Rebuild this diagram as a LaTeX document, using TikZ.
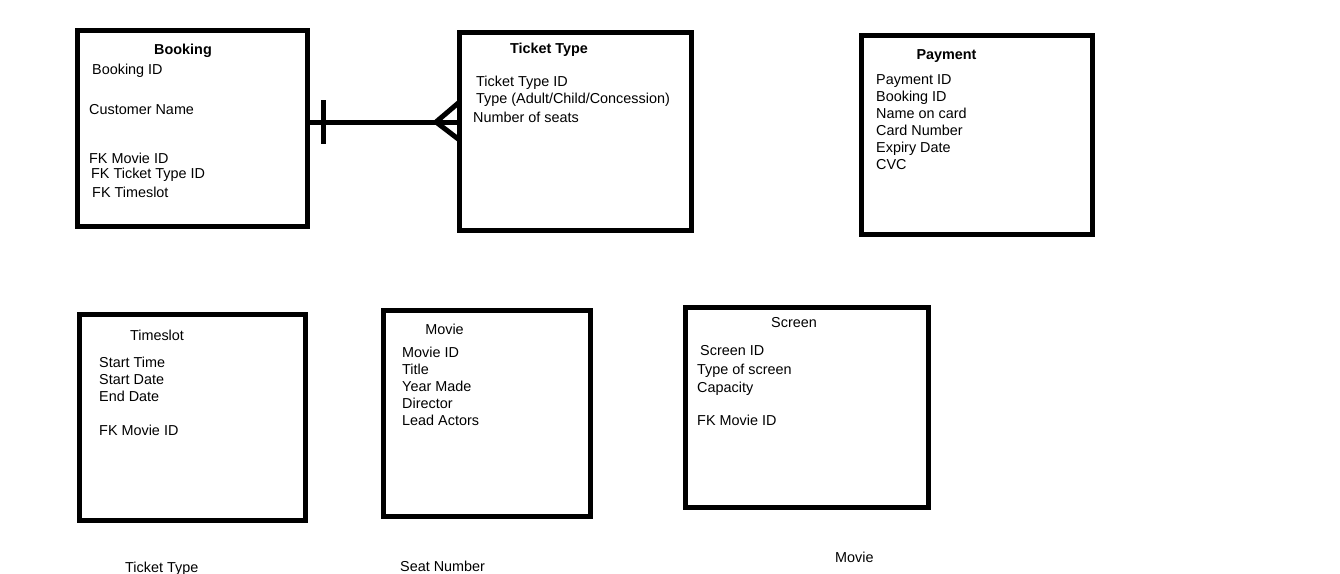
\documentclass[tikz,border=0pt]{standalone}
\usepackage{fontspec}
\setmainfont{Liberation Sans}
\usepackage{tikz}
\usetikzlibrary{positioning}
\tikzstyle{entity} = [draw=black, line width=5pt, inner sep=0pt, outer sep=0pt]
\tikzstyle{title} = [anchor=base, inner sep=0pt]
\tikzstyle{attr} = [anchor=base west, inner sep=0pt]
\tikzstyle{link} = [draw=black, line width=5pt]

\begin{document}
\begin{tikzpicture}[x=1pt, y=-1pt, font=\fontsize{14.4}{17}\selectfont]
\useasboundingbox (0,0) rectangle (1340,573);

% entities
\node[entity, minimum width=230pt, minimum height=196pt] (booking) at (192.5,128.25) {};
\node[entity, minimum width=232pt, minimum height=198.5pt] (ticket) at (575.5,131.25) {};
\node[entity, minimum width=231pt, minimum height=199pt] (payment) at (977,135) {};
\node[entity, minimum width=225.5pt, minimum height=206pt] (timeslot) at (192.25,417) {};
\node[entity, minimum width=207pt, minimum height=206pt] (movie) at (487,413.5) {};
\node[entity, minimum width=243pt, minimum height=200pt] (screen) at (807,407.5) {};

% titles
\node[title, font=\fontsize{14.4}{17}\selectfont\bfseries] (booking-t) at (183,54) {Booking};
\node[title, font=\fontsize{14.4}{17}\selectfont\bfseries] (ticket-t) at (549,53) {Ticket Type};
\node[title, font=\fontsize{14.4}{17}\selectfont\bfseries] (payment-t) at (946.5,59) {Payment};
\node[title] (timeslot-t) at (157,340) {Timeslot};
\node[title] (movie-t) at (444.5,334) {Movie};
\node[title] (screen-t) at (794,327) {Screen};

% attributes
\foreach \x/\y/\t [count=\i] in {92/74/Booking ID, 89/114/Customer Name, 89/163/FK Movie ID,
    91/178/FK Ticket Type ID, 92/197/FK Timeslot}
  \node[attr] (booking-\i) at (\x,\y) {\t};
\foreach \x/\y/\t [count=\i] in {476/86/Ticket Type ID, 476/103/{Type (Adult/Child/Concession)},
    473/122/Number of seats}
  \node[attr] (ticket-\i) at (\x,\y) {\t};
\foreach \y/\t [count=\i] in {84/Payment ID, 101/Booking ID, 118/Name on card,
    135/Card Number, 152/Expiry Date, 169/CVC}
  \node[attr] (payment-\i) at (876,\y) {\t};
\foreach \y/\t [count=\i] in {367/Start Time, 384/Start Date, 401/End Date, 435/FK Movie ID}
  \node[attr] (timeslot-\i) at (99,\y) {\t};
\foreach \y/\t [count=\i] in {357/Movie ID, 374/Title, 391/Year Made, 408/Director, 425/Lead Actors}
  \node[attr] (movie-\i) at (402,\y) {\t};
\foreach \x/\y/\t [count=\i] in {700/355/Screen ID, 697/374/Type of screen, 697/392/Capacity,
    697/425/FK Movie ID}
  \node[attr] (screen-\i) at (\x,\y) {\t};

% leftovers at the bottom edge
\node[attr] (extra-1) at (125,572) {Ticket Type};
\node[attr] (extra-2) at (400,571) {Seat Number};
\node[attr] (extra-3) at (835,562) {Movie};

% one to many: booking -- ticket type
\coordinate (bar) at (323.5,122);
\coordinate (foot) at (436,122);
\coordinate (foot-up) at (459.5,102);
\coordinate (foot-down) at (459.5,140);
\draw[link] (booking.east |- bar) -- (ticket.west |- bar);
\draw[link] ([yshift=22pt]bar) -- ([yshift=-22pt]bar);
\draw[link] (foot-up) -- (foot) -- (foot-down);
\end{tikzpicture}
\end{document}
